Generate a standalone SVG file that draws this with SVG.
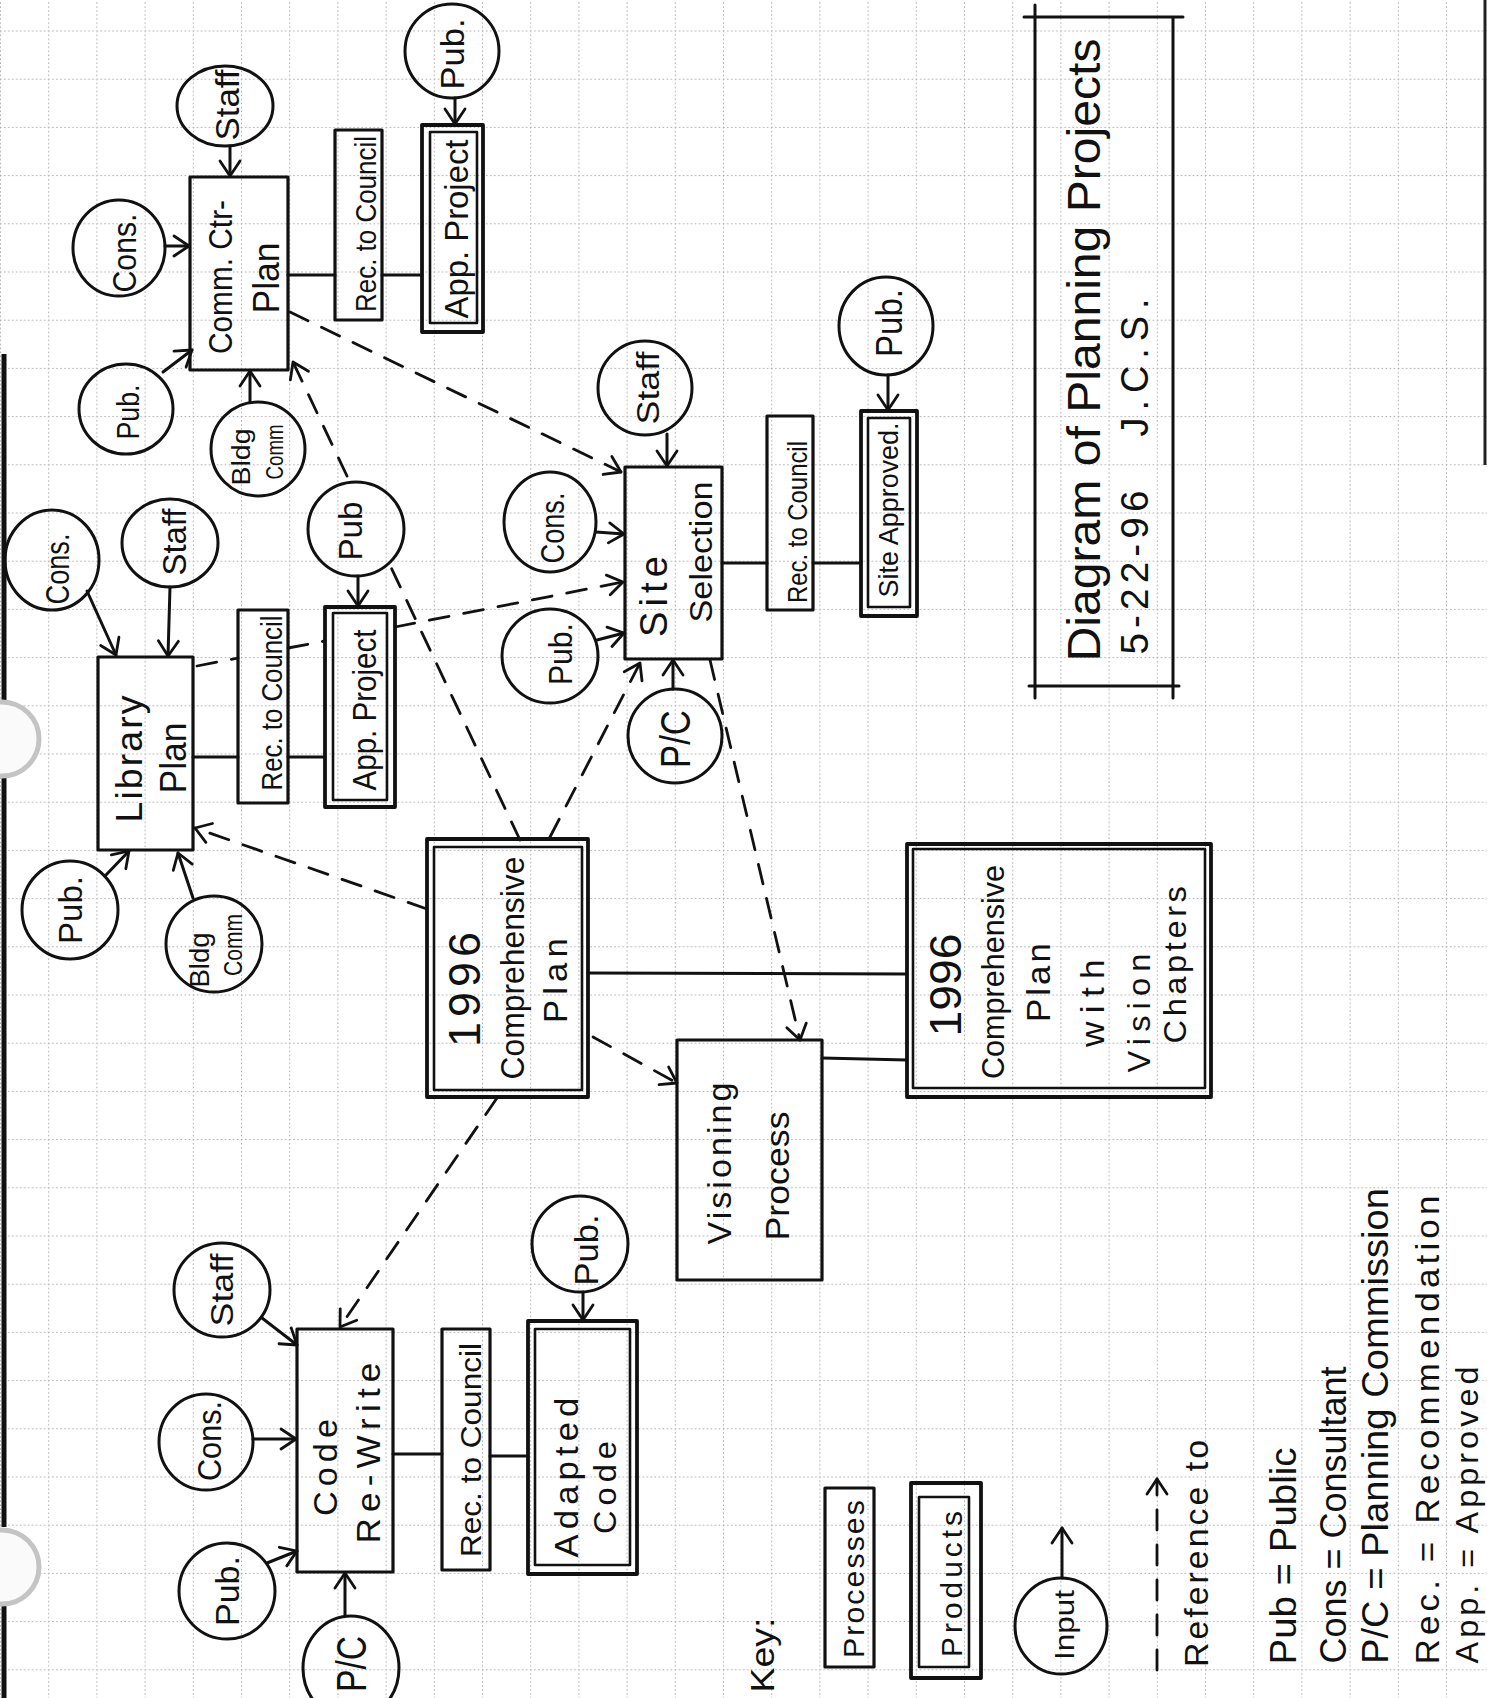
<svg xmlns="http://www.w3.org/2000/svg" width="1487" height="1698" viewBox="0 0 1487 1698">
<style>
.bx{fill:none;stroke:#111;stroke-width:3.2;stroke-linejoin:round}
.bo{fill:none;stroke:#111;stroke-width:3.8;stroke-linejoin:round}
.bi{fill:none;stroke:#111;stroke-width:2.6;stroke-linejoin:round}
.cl{fill:none;stroke:#111;stroke-width:3}
.ln{fill:none;stroke:#111;stroke-width:3;stroke-linecap:round}
.ar{fill:none;stroke:#111;stroke-width:3;stroke-linecap:round;marker-end:url(#ah)}
.dsa{fill:none;stroke:#111;stroke-width:2.8;stroke-dasharray:20 15;stroke-linecap:round;marker-end:url(#ah)}
.t{font-family:"Liberation Sans",Arial,sans-serif;fill:#111;text-anchor:middle}
</style>
<defs>
<marker id="ah" markerUnits="userSpaceOnUse" viewBox="-18 -12 20 24" refX="0" refY="0" markerWidth="20" markerHeight="24" orient="auto" overflow="visible">
<path d="M-15,-10 L0,0 L-15,10" fill="none" stroke="#111" stroke-width="2.8" stroke-linecap="round" stroke-linejoin="round" stroke-dasharray="none"/>
</marker>
<pattern id="grid" patternUnits="userSpaceOnUse" x="0" y="30.5" width="48.2" height="48.2">
<path d="M0 0.5H48.2M0.5 0V48.2" stroke="#a8a8a8" stroke-width="1" stroke-dasharray="1.5 2.5" fill="none"/>
</pattern>
</defs>
<rect width="1487" height="1698" fill="#fff"/>
<rect width="1487" height="1698" fill="url(#grid)"/>
<g id="paper">
<path d="M4 354V700M4 778V1527M4 1606V1698" stroke="#111" stroke-width="5" fill="none"/>
<path d="M1485 0V465" stroke="#222" stroke-width="3" fill="none"/>
<circle cx="2" cy="739" r="37" fill="#fafafa" stroke="#c4c4c4" stroke-width="5"/>
<circle cx="2" cy="1567" r="37" fill="#fafafa" stroke="#c4c4c4" stroke-width="5"/>
</g>
<g id="connectors">
<path class="ln" d="M288 275H335M382 275H422"/>
<path class="ln" d="M193 757H238M288 757H325"/>
<path class="ln" d="M722 563H767M813 563H861"/>
<path class="ln" d="M393 1454H442M490 1456H528"/>
<path class="ln" d="M588 973L907 974"/>
<path class="ln" d="M822 1058L907 1060"/>
<path class="ar" d="M230 146L230 176"/>
<path class="ar" d="M165 246L189 246"/>
<path class="ar" d="M163 372L192 350"/>
<path class="ar" d="M250 402L250 371"/>
<path class="ar" d="M455 98L455 124"/>
<path class="ar" d="M87 591L116 655"/>
<path class="ar" d="M170 587L168 656"/>
<path class="ar" d="M358 576L358 606"/>
<path class="ar" d="M105 876L129 851"/>
<path class="ar" d="M193 898L178 853"/>
<path class="ar" d="M667 434L667 466"/>
<path class="ar" d="M596 532L624 534"/>
<path class="ar" d="M597 640L624 633"/>
<path class="ar" d="M673 689L673 660"/>
<path class="ar" d="M888 375L888 410"/>
<path class="ar" d="M262 1318L297 1345"/>
<path class="ar" d="M253 1439L296 1439"/>
<path class="ar" d="M267 1563L297 1551"/>
<path class="ar" d="M345 1616L345 1573"/>
<path class="ar" d="M583 1292L583 1320"/>
<path class="ar" d="M1062 1578L1062 1528"/>
<path class="dsa" d="M520 840L388 561M347 476L293 362"/>
<path class="dsa" d="M290 312L621 472"/>
<path class="dsa" d="M197 666L238 658M288 648L325 641M395 627L623 582"/>
<path class="dsa" d="M427 909L195 828"/>
<path class="dsa" d="M550 837L640 663"/>
<path class="dsa" d="M710 660L800 1040"/>
<path class="dsa" d="M593 1037L677 1083"/>
<path class="dsa" d="M497 1098L340 1327"/>
<path class="dsa" d="M1157 1670L1157 1479"/>
</g>
<g id="comm-ctr-plan">
<rect class="bx" x="190" y="177" width="98" height="193"/>
<text class="t" font-size="33" textLength="154" lengthAdjust="spacingAndGlyphs" transform="translate(232 277) rotate(-90)">Comm. Ctr-</text>
<text class="t" font-size="36" textLength="71" lengthAdjust="spacingAndGlyphs" transform="translate(279 278) rotate(-90)">Plan</text>
</g>
<g id="comm-cons"><ellipse class="cl" cx="119" cy="248" rx="46" ry="48"/>
<text class="t" font-size="34" textLength="79" lengthAdjust="spacingAndGlyphs" transform="translate(136 253) rotate(-90)">Cons.</text></g>
<g id="comm-staff"><ellipse class="cl" cx="225" cy="106" rx="48" ry="40"/>
<text class="t" font-size="34" textLength="71" lengthAdjust="spacingAndGlyphs" transform="translate(239 105) rotate(-90)">Staff</text></g>
<g id="comm-pub"><ellipse class="cl" cx="126" cy="409" rx="47" ry="45"/>
<text class="t" font-size="32" textLength="55" lengthAdjust="spacingAndGlyphs" transform="translate(139 412) rotate(-90)">Pub.</text></g>
<g id="comm-bldg"><ellipse class="cl" cx="258" cy="449" rx="47" ry="47"/>
<text class="t" font-size="26" textLength="57" lengthAdjust="spacingAndGlyphs" transform="translate(250 457) rotate(-90)">Bldg</text>
<text class="t" font-size="24" textLength="55" lengthAdjust="spacingAndGlyphs" transform="translate(283 452) rotate(-90)">Comm</text></g>
<g id="comm-rec"><rect class="bx" x="335" y="130" width="47" height="190"/>
<text class="t" font-size="30" textLength="176" lengthAdjust="spacingAndGlyphs" transform="translate(376 224) rotate(-90)">Rec. to Council</text></g>
<g id="comm-app"><rect class="bo" x="422" y="125" width="61" height="207"/><rect class="bi" x="430" y="132" width="47" height="191"/>
<text class="t" font-size="34" textLength="179" lengthAdjust="spacingAndGlyphs" transform="translate(468 229) rotate(-90)">App. Project</text></g>
<g id="comm-app-pub"><ellipse class="cl" cx="452" cy="51" rx="47" ry="47"/>
<text class="t" font-size="34" textLength="71" lengthAdjust="spacingAndGlyphs" transform="translate(464 54) rotate(-90)">Pub.</text></g>

<g id="library-plan"><rect class="bx" x="98" y="657" width="95" height="193"/>
<text class="t" font-size="36" letter-spacing="2" textLength="129" lengthAdjust="spacingAndGlyphs" transform="translate(142 758) rotate(-90)">Library</text>
<text class="t" font-size="36" textLength="71" lengthAdjust="spacingAndGlyphs" transform="translate(186 758) rotate(-90)">Plan</text></g>
<g id="lib-cons"><ellipse class="cl" cx="52" cy="560" rx="47" ry="50"/>
<text class="t" font-size="34" textLength="71" lengthAdjust="spacingAndGlyphs" transform="translate(69 569) rotate(-90)">Cons.</text></g>
<g id="lib-staff"><ellipse class="cl" cx="170" cy="543" rx="48" ry="44"/>
<text class="t" font-size="34" textLength="67" lengthAdjust="spacingAndGlyphs" transform="translate(186 542) rotate(-90)">Staff</text></g>
<g id="lib-rec"><rect class="bx" x="238" y="610" width="50" height="193"/>
<text class="t" font-size="29" textLength="175" lengthAdjust="spacingAndGlyphs" transform="translate(282 703) rotate(-90)">Rec. to Council</text></g>
<g id="lib-app"><rect class="bo" x="325" y="607" width="70" height="200"/><rect class="bi" x="333" y="613" width="54" height="187"/>
<text class="t" font-size="34" textLength="161" lengthAdjust="spacingAndGlyphs" transform="translate(376 710) rotate(-90)">App. Project</text></g>
<g id="lib-app-pub"><ellipse class="cl" cx="356" cy="529" rx="48" ry="47"/>
<text class="t" font-size="34" textLength="59" lengthAdjust="spacingAndGlyphs" transform="translate(362 531) rotate(-90)">Pub</text></g>
<g id="lib-pub"><ellipse class="cl" cx="70" cy="910" rx="48" ry="49"/>
<text class="t" font-size="34" textLength="68" lengthAdjust="spacingAndGlyphs" transform="translate(82 910) rotate(-90)">Pub.</text></g>
<g id="lib-bldg"><ellipse class="cl" cx="214" cy="944" rx="48" ry="48"/>
<text class="t" font-size="28" textLength="55" lengthAdjust="spacingAndGlyphs" transform="translate(209 960) rotate(-90)">Bldg</text>
<text class="t" font-size="26" textLength="62" lengthAdjust="spacingAndGlyphs" transform="translate(242 945) rotate(-90)">Comm</text></g>

<g id="site-selection"><rect class="bx" x="625" y="467" width="97" height="192"/>
<text class="t" font-size="38" letter-spacing="5" textLength="86" lengthAdjust="spacingAndGlyphs" transform="translate(667 594) rotate(-90)">Site</text>
<text class="t" font-size="32" textLength="141" lengthAdjust="spacingAndGlyphs" transform="translate(712 552) rotate(-90)">Selection</text></g>
<g id="site-staff"><ellipse class="cl" cx="645" cy="388" rx="47" ry="47"/>
<text class="t" font-size="32" textLength="73" lengthAdjust="spacingAndGlyphs" transform="translate(659 388) rotate(-90)">Staff</text></g>
<g id="site-cons"><ellipse class="cl" cx="550" cy="522" rx="46" ry="50"/>
<text class="t" font-size="34" textLength="71" lengthAdjust="spacingAndGlyphs" transform="translate(564 528) rotate(-90)">Cons.</text></g>
<g id="site-pub"><ellipse class="cl" cx="550" cy="656" rx="48" ry="47"/>
<text class="t" font-size="34" textLength="62" lengthAdjust="spacingAndGlyphs" transform="translate(572 654) rotate(-90)">Pub.</text></g>
<g id="site-pc"><ellipse class="cl" cx="675" cy="736" rx="47" ry="47"/>
<text class="t" font-size="42" textLength="58" lengthAdjust="spacingAndGlyphs" transform="translate(690 739) rotate(-90)">P/C</text></g>
<g id="site-rec"><rect class="bx" x="767" y="416" width="46" height="194"/>
<text class="t" font-size="28" textLength="162" lengthAdjust="spacingAndGlyphs" transform="translate(807 522) rotate(-90)">Rec. to Council</text></g>
<g id="site-approved"><rect class="bo" x="861" y="411" width="56" height="205"/><rect class="bi" x="868" y="418" width="42" height="189"/>
<text class="t" font-size="28" textLength="175" lengthAdjust="spacingAndGlyphs" transform="translate(898 510) rotate(-90)">Site Approved.</text></g>
<g id="site-app-pub"><ellipse class="cl" cx="886" cy="326" rx="47" ry="49"/>
<text class="t" font-size="36" textLength="68" lengthAdjust="spacingAndGlyphs" transform="translate(902 323) rotate(-90)">Pub.</text></g>

<g id="comp-plan-1996"><rect class="bo" x="427" y="839" width="161" height="258"/><rect class="bi" x="434" y="847" width="148" height="243"/>
<text class="t" font-size="44" letter-spacing="5" textLength="120" lengthAdjust="spacingAndGlyphs" transform="translate(480 987) rotate(-90)">1996</text>
<text class="t" font-size="34" textLength="223" lengthAdjust="spacingAndGlyphs" transform="translate(524 968) rotate(-90)">Comprehensive</text>
<text class="t" font-size="34" letter-spacing="5" textLength="90" lengthAdjust="spacingAndGlyphs" transform="translate(567 978) rotate(-90)">Plan</text></g>
<g id="visioning"><rect class="bx" x="677" y="1040" width="145" height="240"/>
<text class="t" font-size="34" letter-spacing="3" textLength="165" lengthAdjust="spacingAndGlyphs" transform="translate(731 1162) rotate(-90)">Visioning</text>
<text class="t" font-size="34" textLength="129" lengthAdjust="spacingAndGlyphs" transform="translate(789 1176) rotate(-90)">Process</text></g>
<g id="comp-plan-vision"><rect class="bo" x="907" y="844" width="304" height="253"/><rect class="bi" x="913" y="849" width="292" height="239"/>
<text class="t" font-size="44" textLength="103" lengthAdjust="spacingAndGlyphs" transform="translate(961 985) rotate(-90)">1996</text>
<text class="t" font-size="32" textLength="214" lengthAdjust="spacingAndGlyphs" transform="translate(1004 972) rotate(-90)">Comprehensive</text>
<text class="t" font-size="34" letter-spacing="3" textLength="82" lengthAdjust="spacingAndGlyphs" transform="translate(1050 981) rotate(-90)">Plan</text>
<text class="t" font-size="34" letter-spacing="8" textLength="96" lengthAdjust="spacingAndGlyphs" transform="translate(1104 999) rotate(-90)">with</text>
<text class="t" font-size="32" letter-spacing="6" textLength="125" lengthAdjust="spacingAndGlyphs" transform="translate(1150 1010) rotate(-90)">Vision</text>
<text class="t" font-size="32" letter-spacing="3.5" textLength="161" lengthAdjust="spacingAndGlyphs" transform="translate(1186 963) rotate(-90)">Chapters</text></g>

<g id="code-rewrite"><rect class="bx" x="297" y="1329" width="96" height="243"/>
<text class="t" font-size="34" letter-spacing="5" textLength="102" lengthAdjust="spacingAndGlyphs" transform="translate(337 1465) rotate(-90)">Code</text>
<text class="t" font-size="34" letter-spacing="6" textLength="187" lengthAdjust="spacingAndGlyphs" transform="translate(380 1450) rotate(-90)">Re-Write</text></g>
<g id="code-staff"><ellipse class="cl" cx="222" cy="1290" rx="48" ry="47"/>
<text class="t" font-size="32" textLength="73" lengthAdjust="spacingAndGlyphs" transform="translate(233 1290) rotate(-90)">Staff</text></g>
<g id="code-cons"><ellipse class="cl" cx="206" cy="1442" rx="47" ry="48"/>
<text class="t" font-size="34" textLength="80" lengthAdjust="spacingAndGlyphs" transform="translate(221 1441) rotate(-90)">Cons.</text></g>
<g id="code-pub"><ellipse class="cl" cx="227" cy="1591" rx="48" ry="48"/>
<text class="t" font-size="34" textLength="70" lengthAdjust="spacingAndGlyphs" transform="translate(239 1591) rotate(-90)">Pub.</text></g>
<g id="code-pc"><ellipse class="cl" cx="351" cy="1668" rx="48" ry="52"/>
<text class="t" font-size="42" textLength="56" lengthAdjust="spacingAndGlyphs" transform="translate(366 1664) rotate(-90)">P/C</text></g>
<g id="code-rec"><rect class="bx" x="442" y="1329" width="48" height="241"/>
<text class="t" font-size="30" textLength="214" lengthAdjust="spacingAndGlyphs" transform="translate(481 1450) rotate(-90)">Rec. to Council</text></g>
<g id="adapted-code"><rect class="bo" x="528" y="1321" width="109" height="253"/><rect class="bi" x="535" y="1329" width="95" height="236"/>
<text class="t" font-size="34" letter-spacing="5" textLength="165" lengthAdjust="spacingAndGlyphs" transform="translate(578 1475) rotate(-90)">Adapted</text>
<text class="t" font-size="32" letter-spacing="5" textLength="98" lengthAdjust="spacingAndGlyphs" transform="translate(616 1485) rotate(-90)">Code</text></g>
<g id="adapted-pub"><ellipse class="cl" cx="580" cy="1244" rx="48" ry="48"/>
<text class="t" font-size="34" textLength="71" lengthAdjust="spacingAndGlyphs" transform="translate(598 1250) rotate(-90)">Pub.</text></g>

<g id="title">
<path class="ln" d="M1035 5V698M1173 17V698M1024 17H1183M1029 686H1179"/>
<text class="t" font-size="46" textLength="623" lengthAdjust="spacingAndGlyphs" transform="translate(1100 350) rotate(-90)">Diagram of Planning Projects</text>
<text class="t" font-size="38" letter-spacing="5" textLength="169" lengthAdjust="spacingAndGlyphs" transform="translate(1148 570) rotate(-90)">5-22-96</text>
<text class="t" font-size="38" letter-spacing="7" textLength="145" lengthAdjust="spacingAndGlyphs" transform="translate(1148 364) rotate(-90)">J.C.S.</text>
</g>
<g id="key">
<text class="t" font-size="34" textLength="75" lengthAdjust="spacingAndGlyphs" transform="translate(774 1655) rotate(-90)">Key:</text>
<rect class="bx" x="825" y="1488" width="49" height="179"/>
<text class="t" font-size="30" letter-spacing="2" textLength="160" lengthAdjust="spacingAndGlyphs" transform="translate(864 1578) rotate(-90)">Processes</text>
<rect class="bo" x="911" y="1483" width="70" height="195"/><rect class="bi" x="919" y="1497" width="50" height="170"/>
<text class="t" font-size="30" letter-spacing="4" textLength="150" lengthAdjust="spacingAndGlyphs" transform="translate(962 1582) rotate(-90)">Products</text>
<ellipse class="cl" cx="1061" cy="1626" rx="46" ry="48"/>
<text class="t" font-size="28" textLength="70" lengthAdjust="spacingAndGlyphs" transform="translate(1074 1625) rotate(-90)">Input</text>
<text class="t" font-size="34" letter-spacing="3" textLength="230" lengthAdjust="spacingAndGlyphs" transform="translate(1208 1552) rotate(-90)">Reference to</text>
<text class="t" font-size="36" textLength="217" lengthAdjust="spacingAndGlyphs" transform="translate(1296 1556) rotate(-90)">Pub = Public</text>
<text class="t" font-size="36" textLength="297" lengthAdjust="spacingAndGlyphs" transform="translate(1346 1515) rotate(-90)">Cons = Consultant</text>
<text class="t" font-size="36" textLength="476" lengthAdjust="spacingAndGlyphs" transform="translate(1388 1426) rotate(-90)">P/C = Planning Commission</text>
<text class="t" font-size="34" letter-spacing="4" textLength="473" lengthAdjust="spacingAndGlyphs" transform="translate(1439 1428) rotate(-90)">Rec. = Recommendation</text>
<text class="t" font-size="32" letter-spacing="4" textLength="301" lengthAdjust="spacingAndGlyphs" transform="translate(1478 1513) rotate(-90)">App. = Approved</text>
</g>
</svg>
